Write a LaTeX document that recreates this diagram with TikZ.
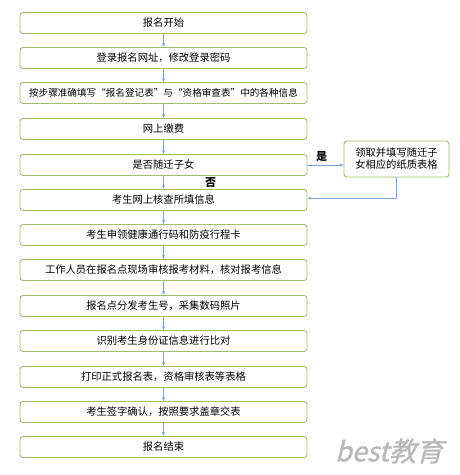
\documentclass[tikz,border=0pt]{standalone}
\usepackage{fontspec}
\setmainfont{Noto Sans CJK SC}
\newfontfamily\markfont[FakeSlant=0.25,FakeBold=1.2]{Noto Sans CJK SC}
\usetikzlibrary{arrows.meta}
\definecolor{boxgreen}{RGB}{160,190,110}
\definecolor{linkblue}{RGB}{125,165,210}

\begin{document}
\begin{tikzpicture}[x=1pt,y=-1pt]
\useasboundingbox (0,0) rectangle (459,475);
\begin{scope}[every node/.style={draw=boxgreen,line width=0.9pt,rounded corners=3pt,
              minimum width=287pt,minimum height=21pt,inner sep=0pt,
              font=\fontsize{10.3}{12}\selectfont}]
    \node (start) at (163.5,23) {报名开始};
    \node (login) at (163.5,58) {登录报名网址，修改登录密码};
    \node[font=\fontsize{9.6}{12}\selectfont] (fill) at (163.5,93) {按步骤准确填写“报名登记表”与“资格审查表”中的各种信息};
    \node (pay) at (163.5,129) {网上缴费};
    \node (child) at (163.5,165) {是否随迁子女};
    \node (check) at (163.5,200) {考生网上核查所填信息};
    \node (health) at (163.5,235) {考生申领健康通行码和防疫行程卡};
    \node (review) at (163.5,270) {工作人员在报名点现场审核报考材料，核对报考信息};
    \node (photo) at (163.5,306) {报名点分发考生号，采集数码照片};
    \node (ident) at (163.5,341) {识别考生身份证信息进行比对};
    \node (print) at (163.5,377) {打印正式报名表，资格审核表等表格};
    \node (sign) at (163.5,412) {考生签字确认，按照要求盖章交表};
    \node (finish) at (163.5,447) {报名结束};
    \node[minimum width=105pt,minimum height=36pt,align=center] (paper) at (396.5,159)
        {领取并填写随迁子\\女相应的纸质表格};
\end{scope}

\begin{scope}[>={Stealth[linkblue,length=4pt,width=3pt]},
              every edge/.style={draw=linkblue,line width=0.7pt}]
    \path [->] (start) edge node {} (login);
    \path [->] (login) edge node {} (fill);
    \path [->] (fill) edge node {} (pay);
    \path [->] (pay) edge node {} (child);
    \path [->] (child) edge node[right,xshift=38pt,font=\bfseries\fontsize{11}{12}\selectfont] {否} (check);
    \path [->] (check) edge node {} (health);
    \path [->] (health) edge node {} (review);
    \path [->] (review) edge node {} (photo);
    \path [->] (photo) edge node {} (ident);
    \path [->] (ident) edge node {} (print);
    \path [->] (print) edge node {} (sign);
    \path [->] (sign) edge node {} (finish);
    \path [->] (child.east) edge node[above,xshift=-4pt,font=\bfseries\fontsize{11}{12}\selectfont] {是} (child.east -| paper.west);
    \draw [->,linkblue,line width=0.7pt] (paper.south) |- ([yshift=2pt]check.east);
\end{scope}

\node[text=gray!55,font=\markfont\fontsize{27}{30}\selectfont] (mark) at (389,451) {best教育};
\end{tikzpicture}
\end{document}
